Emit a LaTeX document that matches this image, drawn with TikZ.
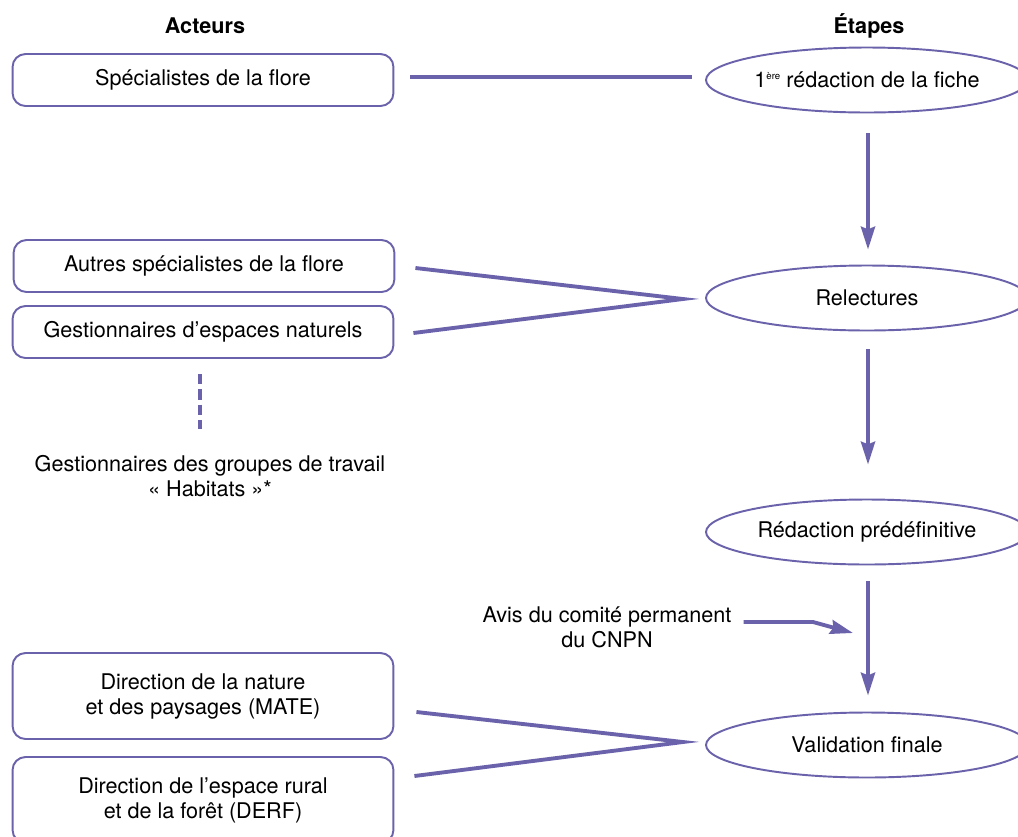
\documentclass[tikz,border=0pt]{standalone}
\usepackage{fontspec}
\setmainfont{TeX Gyre Heros}
\usepackage{tikz}
\usetikzlibrary{shapes.geometric,arrows.meta,positioning,calc}
\definecolor{lilas}{RGB}{106,98,170}
\newcommand{\corps}{\fontsize{12.3}{14.2}\selectfont}

\begin{document}
\begin{tikzpicture}[x=0.02cm, y=-0.02cm,
    acteur/.style={draw=lilas, line width=1.1pt, rounded corners=0.26cm, minimum width=7.62cm, minimum height=1.04cm, align=center, font=\corps},
    etape/.style={ellipse, draw=lilas, line width=1.1pt, minimum width=6.44cm, minimum height=1.3cm, inner sep=0pt, font=\corps},
    titre/.style={font=\bfseries\corps},
    lien/.style={draw=lilas, line width=2.2pt},
    fleche/.style={lien, -{Stealth[length=13pt, width=8pt, inset=1.5pt]}}]

    \useasboundingbox (0,0) rectangle (1018,836);
    \clip (0,0) rectangle (1018,836);

    % Titres
    \node[titre] (acteurs) at (205,26) {Acteurs};
    \node[titre] (etapes) at (869,26) {Étapes};

    % Acteurs
    \node[acteur] (flore) at (203,80) {Spécialistes de la flore};
    \node[acteur] (autres) at (204,266) {Autres spécialistes de la flore};
    \node[acteur] (gest) at (203,332) {Gestionnaires d’espaces naturels};
    \node[align=center, font=\corps] (groupes) at (210,476) {Gestionnaires des groupes de travail\\« Habitats »*};
    \node[acteur, minimum height=1.72cm] (dnp) at (203,696) {Direction de la nature\\et des paysages (MATE)};
    \node[acteur, minimum height=1.72cm] (derf) at (203,800) {Direction de l’espace rural\\et de la forêt (DERF)};
    \node[align=center, font=\corps] (avis) at (607,627) {Avis du comité permanent\\du CNPN};

    % Etapes
    \node[etape] (fiche) at (867,80) {1\raisebox{0.75ex}{\fontsize{5.5}{6}\selectfont ère} rédaction de la fiche};
    \node[etape] (relect) at (867,298) {Relectures};
    \node[etape] (predef) at (867,532) {Rédaction prédéfinitive};
    \node[etape] (valid) at (867,745) {Validation finale};

    % Liens
    \draw[lien] ($(flore.east)+(16,-3)$) -- ($(fiche.west)+(-13,-3)$);
    \coordinate (v1) at (683,299);
    \draw[lien] ($(autres.east)+(20,2)$) -- (v1) -- ($(gest.east)+(19,1)$);
    \coordinate (v2) at (683,742);
    \draw[lien] ($(dnp.east)+(22,16)$) -- (v2) -- ($(derf.east)+(20,-24)$);
    \draw[lien, dash pattern=on 5.9pt off 2.8pt, line width=2pt] ($(gest.south)+(-3,15)$) -- ($(groupes.north)+(-10,-20)$);

    % Fleches
    \draw[fleche] ($(fiche.south)+(1,20)$) -- ($(relect.north)+(1,-15)$);
    \draw[fleche] ($(relect.south)+(1,18)$) -- ($(predef.north)+(1,-34)$);
    \draw[fleche] ($(predef.south)+(1,16)$) -- ($(valid.north)+(1,-16)$);
    \coordinate (coude) at (813,622);
    \draw[fleche] ($(avis.east)+(6,-5)$) -- (coude) -- (853,633);
\end{tikzpicture}
\end{document}
